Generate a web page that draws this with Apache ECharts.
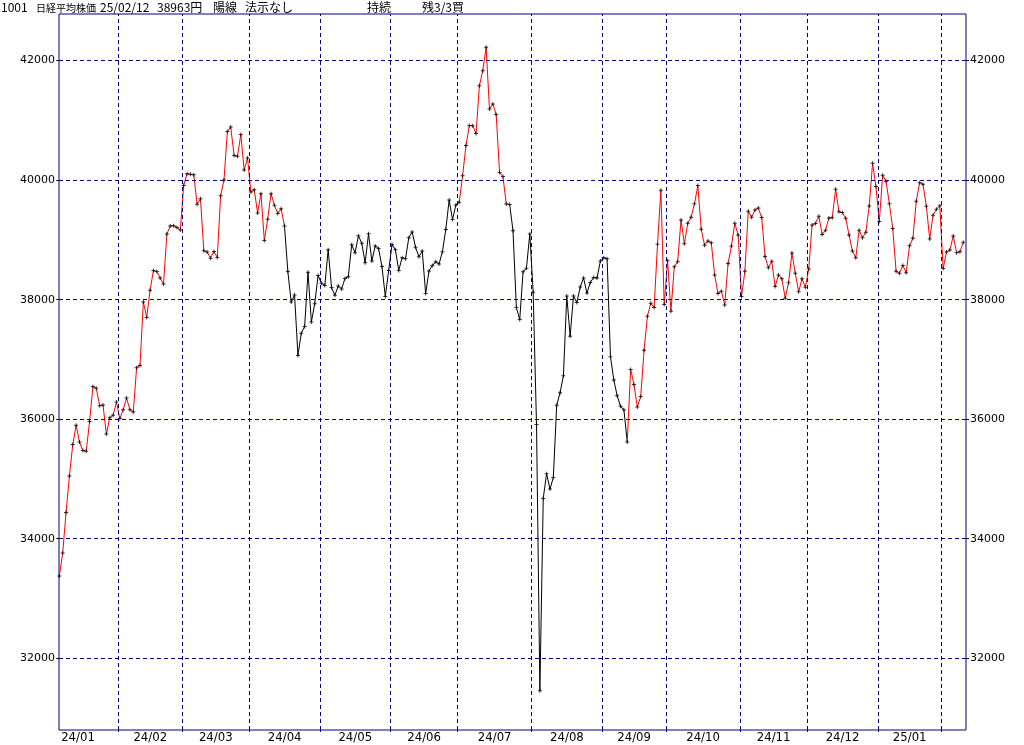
<!DOCTYPE html>
<html><head><meta charset="utf-8">
<script src="https://cdn.jsdelivr.net/npm/echarts@6/dist/echarts.min.js"></script>
<style>html,body{margin:0;padding:0;background:#fff}#c{width:1024px;height:745px}</style>
</head><body><div id="c"></div>
<script>
// ---- data ----
const monthDays = [
  ['24/01', [5,9,10,11,12,15,16,17,18,19,22,23,24,25,26,29,30,31]],
  ['24/02', [1,2,5,6,7,8,9,13,14,15,16,19,20,21,22,26,27,28,29]],
  ['24/03', [1,4,5,6,7,8,11,12,13,14,15,18,19,21,22,25,26,27,28,29]],
  ['24/04', [1,2,3,4,5,8,9,10,11,12,15,16,17,18,19,22,23,24,25,26,30]],
  ['24/05', [1,2,7,8,9,10,13,14,15,16,17,20,21,22,23,24,27,28,29,30,31]],
  ['24/06', [3,4,5,6,7,10,11,12,13,14,17,18,19,20,21,24,25,26,27,28]],
  ['24/07', [1,2,3,4,5,8,9,10,11,12,16,17,18,19,22,23,24,25,26,29,30,31]],
  ['24/08', [1,2,5,6,7,8,9,13,14,15,16,19,20,21,22,23,26,27,28,29,30]],
  ['24/09', [2,3,4,5,6,9,10,11,12,13,17,18,19,20,24,25,26,27,30]],
  ['24/10', [1,2,3,4,7,8,9,10,11,15,16,17,18,21,22,23,24,25,28,29,30,31]],
  ['24/11', [1,5,6,7,8,11,12,13,14,15,18,19,20,21,22,25,26,27,28,29]],
  ['24/12', [2,3,4,5,6,9,10,11,12,13,16,17,18,19,20,23,24,25,26,27,30]],
  ['25/01', [6,7,8,9,10,14,15,16,17,20,21,22,23,24,27,28,29,30,31]],
  ['25/02', [3,4,5,6,7,10,12]]
];
const closes = [
  33377,33763,34441,35049,35577,35901,35619,35477,35466,35963,36546,36517,36226,36236,35751,36026,36065,36286,
  36011,36158,36354,36160,36119,36863,36897,37963,37703,38157,38487,38470,38363,38262,39098,39233,39239,39208,39166,
  39910,40109,40097,40090,39598,39688,38820,38797,38695,38807,38707,39740,40003,40815,40888,40414,40398,40762,40168,40369,
  39803,39838,39451,39773,38992,39347,39773,39581,39442,39523,39232,38471,37961,38079,37068,37438,37552,38460,37628,37934,38405,
  38274,38236,38835,38202,38073,38229,38179,38356,38385,38920,38787,39069,38946,38617,39103,38646,38900,38855,38556,38054,38487,
  38923,38837,38490,38703,38683,39038,39134,38876,38720,38814,38102,38482,38570,38633,38596,38804,39173,39667,39341,39583,
  39631,40074,40580,40913,40912,40780,41580,41831,42224,41190,41275,41097,40126,40063,39599,39594,39154,37869,37667,38468,38526,39101,
  38126,35910,31458,34675,35089,34831,35025,36232,36442,36726,38062,37389,38063,37951,38211,38364,38110,38288,38371,38362,38648,
  38700,38686,37047,36657,36391,36215,36159,35620,36833,36581,36203,36380,37155,37723,37940,37870,38926,39829,37919,
  38651,37808,38552,38635,39332,38937,39277,39380,39605,39910,39180,38911,38981,38954,38411,38104,38143,37913,38605,38900,39277,39081,
  38053,38474,39480,39381,39500,39533,39376,38721,38535,38642,38220,38414,38352,38026,38283,38780,38442,38134,38349,38208,
  38513,39248,39276,39395,39091,39160,39367,39372,39849,39470,39457,39364,39081,38813,38701,39161,39036,39130,39568,40281,39894,
  39307,40083,39981,39605,39190,38474,38444,38572,38451,38903,39027,39646,39958,39931,39565,39016,39414,39513,39572,
  38520,38798,38831,39066,38787,38801,38963
];
// trend signal: from this date on, segments are drawn in this state
const signalSwitch = [['24/01/05','buy'],['24/04/15','sell'],['24/07/01','buy'],['24/07/23','sell'],['24/09/11','buy']];
const monthLabels = ['24/01','24/02','24/03','24/04','24/05','24/06','24/07','24/08','24/09','24/10','24/11','24/12','25/01'];
const yTicks = [32000,34000,36000,38000,40000,42000];
const headerTexts = ['1001','日経平均株価','25/02/12','38963円','陽線','法示なし','持続','残3/3買'];

// ---- derived ----
const dates = [];
const monthStart = [];
monthDays.forEach(([m, ds]) => { monthStart.push(dates.length); ds.forEach(d => dates.push(m + '/' + String(d).padStart(2,'0'))); });
const N = dates.length;
const xMin = -0.1, xMax = N - 1 + 0.8;
const yMin = 30800, yMax = 42780;
const NAVY = '#000080';
const gridPos = monthStart.slice(1).map(i => i - 0.45);
const labelPos = monthLabels.map((_, k) => k === 0 ? gridPos[0] - 12 : (gridPos[k - 1] + gridPos[k]) / 2);

const sw = signalSwitch.map(([d, s]) => [dates.indexOf(d), s]);
const colorOf = s => s === 'buy' ? '#ff0000' : '#000000';
const pieces = sw.map(([idx, s], k) => {
  const p = { color: colorOf(s) };
  if (k > 0) p.gte = idx;
  if (k < sw.length - 1) p.lt = sw[k + 1][0];
  return p;
});

const pts = closes.map((v, i) => [i, v]);
const headerX = [1, 36, 100, 157, 213, 245, 367, 422];
const headerSize = [12, 10, 12, 12, 12, 12, 12, 12];

const chart = echarts.init(document.getElementById('c'), null, { renderer: 'canvas' });
chart.setOption({
  animation: false,
  backgroundColor: '#ffffff',
  title: headerTexts.map((t, k) => ({
    text: t, left: headerX[k], top: headerSize[k] === 10 ? 1 : 0, padding: 0,
    textStyle: { fontFamily: '"Noto Sans CJK JP", sans-serif', fontSize: headerSize[k], fontWeight: 'normal', color: '#000', lineHeight: 14 }
  })),
  grid: { left: 59, right: 58, top: 14, bottom: 15, show: true, borderColor: NAVY, borderWidth: 1, backgroundColor: 'transparent' },
  xAxis: {
    type: 'value', min: xMin, max: xMax,
    axisLine: { show: false },
    splitLine: { show: false },
    axisTick: { show: true, customValues: gridPos, length: 2, lineStyle: { color: NAVY } },
    axisLabel: {
      customValues: labelPos, margin: 1, verticalAlign: 'top',
      fontFamily: '"Liberation Sans Narrow", "DejaVu Sans Condensed", sans-serif', fontSize: 13, color: '#000',
      formatter: v => { let b = 0; labelPos.forEach((p, k) => { if (Math.abs(p - v) < Math.abs(labelPos[b] - v)) b = k; }); return monthLabels[b]; }
    }
  },
  yAxis: [0, 1].map(k => ({
    type: 'value', min: yMin, max: yMax, position: k ? 'right' : 'left',
    axisLine: { show: false },
    splitLine: { show: false },
    axisTick: { show: true, customValues: yTicks, length: 3, lineStyle: { color: '#000' } },
    axisLabel: { customValues: yTicks, margin: 4, fontFamily: '"DejaVu Sans", sans-serif', fontSize: 11, color: '#000',
      formatter: v => String(Math.round(v)) }
  })),
  visualMap: { type: 'piecewise', show: false, dimension: 0, seriesIndex: 1, pieces: pieces },
  series: [
    {
      type: 'line', data: [], silent: true, z: 1, symbol: 'none',
      markLine: {
        silent: true, symbol: ['none', 'none'], label: { show: false }, animation: false,
        lineStyle: { color: NAVY, type: [4, 3], width: 1 },
        emphasis: { disabled: true },
        data: gridPos.map(v => ({ xAxis: v })).concat(yTicks.map(v => ({ yAxis: v })))
      }
    },
    {
      type: 'line', data: pts, silent: true, z: 3, symbol: 'none', showSymbol: false,
      lineStyle: { width: 1 }
    },
    {
      type: 'scatter', data: pts, silent: true, z: 4,
      symbol: 'path://M1.5,0h1v1.5h1.5v1h-1.5v1.5h-1v-1.5h-1.5v-1h1.5z', symbolSize: 4,
      itemStyle: { color: '#000' }
    }
  ]
});
</script></body></html>
